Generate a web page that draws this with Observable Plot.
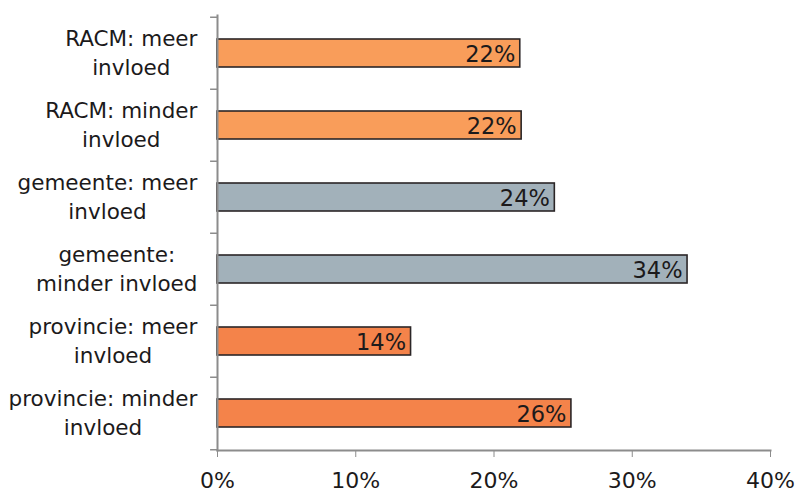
<!DOCTYPE html>
<html>
<head>
<meta charset="utf-8">
<script src="https://cdn.jsdelivr.net/npm/d3@7"></script>
<script src="https://cdn.jsdelivr.net/npm/@observablehq/plot@0.6"></script>
<style>
  html, body { margin: 0; padding: 0; background: #fff; }
  #chart svg { display: block; }
</style>
</head>
<body>
<div id="chart"></div>
<script>
const categories = [
  "RACM: meer\ninvloed",
  "RACM: minder\ninvloed",
  "gemeente: meer\ninvloed",
  "gemeente:\nminder invloed",
  "provincie: meer\ninvloed",
  "provincie: minder\ninvloed"
];
const values = [21.9, 22.0, 24.4, 34.0, 14.0, 25.6];
const labels = ["22%", "22%", "24%", "34%", "14%", "26%"];
const groups = ["RACM", "RACM", "gemeente", "gemeente", "provincie", "provincie"];
const xTicks = [0, 10, 20, 30, 40];

const data = categories.map((c, i) => ({cat: c, value: values[i], label: labels[i], group: groups[i]}));

const font = "DejaVu Sans, Verdana, sans-serif";
const axisColor = "#8c8c8c";
const ink = "#1c1a1b";

const chart = Plot.plot({
  width: 797,
  height: 495,
  marginLeft: 217,
  marginRight: 27,
  marginTop: 15,
  marginBottom: 45,
  style: {fontFamily: font, fontSize: "21px", color: ink, background: "#fff"},
  x: {domain: [0, 40], ticks: xTicks, label: null},
  y: {domain: categories, padding: 0, label: null},
  color: {domain: ["RACM", "gemeente", "provincie"], range: ["#f99d5a", "#a2b1ba", "#f4834a"]},
  marks: [
    Plot.rectX(data, {y: "cat", x: "value", fill: "group", stroke: "#2b2627", strokeWidth: 1.6, insetTop: 22, insetBottom: 22}),
    Plot.text(data, {y: "cat", x: "value", text: "label", textAnchor: "end", dx: -5, dy: 1, fontSize: 22.5, fill: ink}),
    // y-axis boundary ticks
    Plot.ruleY(data, {y: "cat", x1: -0.5, x2: 0, dy: -36.25, stroke: axisColor, strokeWidth: 1.5}),
    Plot.ruleY([data[data.length - 1]], {y: "cat", x1: -0.5, x2: 0, dy: 36.25, stroke: axisColor, strokeWidth: 1.5}),
    Plot.frame({anchor: "left", stroke: axisColor, strokeWidth: 2}),
    Plot.frame({anchor: "bottom", stroke: axisColor, strokeWidth: 2}),
    Plot.axisX({ticks: xTicks, tickFormat: d => d + "%", tickSize: 7, tickPadding: 15, stroke: axisColor, fontSize: 22, fill: ink}),
    Plot.axisY({tickSize: 0, tickPadding: 20, lineHeight: 1.35, fontSize: 21.5, dy: -2, fill: ink})
  ]
});
document.getElementById("chart").appendChild(chart);

// center the lines of each y label within its right-aligned block
chart.querySelectorAll('g[aria-label="y-axis tick label"] text').forEach(t => {
  const w = t.getBBox().width;
  t.setAttribute("text-anchor", "middle");
  t.querySelectorAll("tspan").forEach(s => s.setAttribute("x", -w / 2));
  if (!t.querySelector("tspan")) t.setAttribute("x", -w / 2);
});
</script>
</body>
</html>
